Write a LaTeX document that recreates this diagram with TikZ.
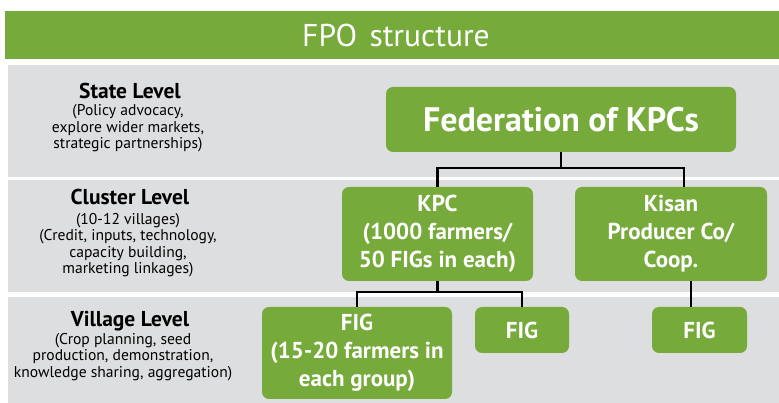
\documentclass[tikz,border=0pt]{standalone}
\usepackage{fontspec}
\setmainfont{PT Sans}
\usetikzlibrary{positioning}
\definecolor{fpogreen}{RGB}{118,170,58}
\definecolor{bandgray}{RGB}{221,222,224}

\begin{document}
\begin{tikzpicture}[x=1pt,y=1pt,
  greenbox/.style={fill=fpogreen,rounded corners=7pt,text=white,align=center,inner sep=0pt,
    font=\bfseries\fontsize{23}{28}\selectfont},
  leveltitle/.style={font=\bfseries\fontsize{21.5}{24}\selectfont,align=center,inner sep=0pt},
  levelnote/.style={font=\fontsize{15.6}{16.5}\selectfont,align=center,inner sep=0pt},
  link/.style={line width=2.2pt}]
  \useasboundingbox (0,0) rectangle (779,403);
  % header and the three bands
  \fill[fpogreen] (5,344) rectangle (779,392);
  \node[text=white,font=\fontsize{31.5}{32}\selectfont] (head) at (396,368) {FPO\hspace{4pt} structure};
  \fill[bandgray] (8,226) rectangle (779,338); %state
  \fill[bandgray] (8,111) rectangle (779,223); %cluster
  \fill[bandgray] (8,0) rectangle (779,106);   %village
  % level labels
  \node[leveltitle] (state) at (130,312) {State Level};
  \node[levelnote] (statenote) at (128,274.5) {(Policy advocacy,\\explore wider markets,\\strategic partnerships)};
  \node[leveltitle] (cluster) at (130,206) {Cluster Level};
  \node[levelnote] (clusternote) at (128,158) {(10-12 villages)\\(Credit, inputs, technology,\\capacity building,\\marketing linkages)};
  \node[leveltitle] (village) at (130,82) {Village Level};
  \node[levelnote] (villagenote) at (123,46) {(Crop planning, seed\\production, demonstration,\\knowledge sharing, aggregation)};
  % boxes
  \node[greenbox,minimum width=350pt,minimum height=65pt,font=\bfseries\fontsize{34}{36}\selectfont] (fed) at (561,283.5) {Federation of KPCs};
  \node[greenbox,minimum width=191pt,minimum height=94pt] (kpc) at (437.5,169) {KPC\\(1000 farmers/\\50 FIGs in each)};
  \node[greenbox,minimum width=192pt,minimum height=94pt] (kisan) at (671,169) {Kisan\\Producer Co/\\Coop.};
  \node[greenbox,minimum width=190pt,minimum height=92pt] (fig1) at (357,50) {FIG\\(15-20 farmers in\\each group)};
  \node[greenbox,minimum width=94pt,minimum height=46pt] (fig2) at (522,73) {FIG};
  \node[greenbox,minimum width=95pt,minimum height=46pt] (fig3) at (699.5,73) {FIG};
  % connectors
  \draw[link] (fed.south) -- ++(0,-16) coordinate (fedbus);
  \draw[link] (kpc.north) |- (fedbus) -| ([xshift=13pt]kisan.north);
  \draw[link] (kpc.south) -- ++(0,-11) coordinate (kpcbus);
  \draw[link] (fig1.north) |- (kpcbus) -| (fig2.north);
  \draw[link] ([xshift=20pt]kisan.south) -- ([xshift=20pt]kisan.south |- fig3.north);
\end{tikzpicture}
\end{document}
